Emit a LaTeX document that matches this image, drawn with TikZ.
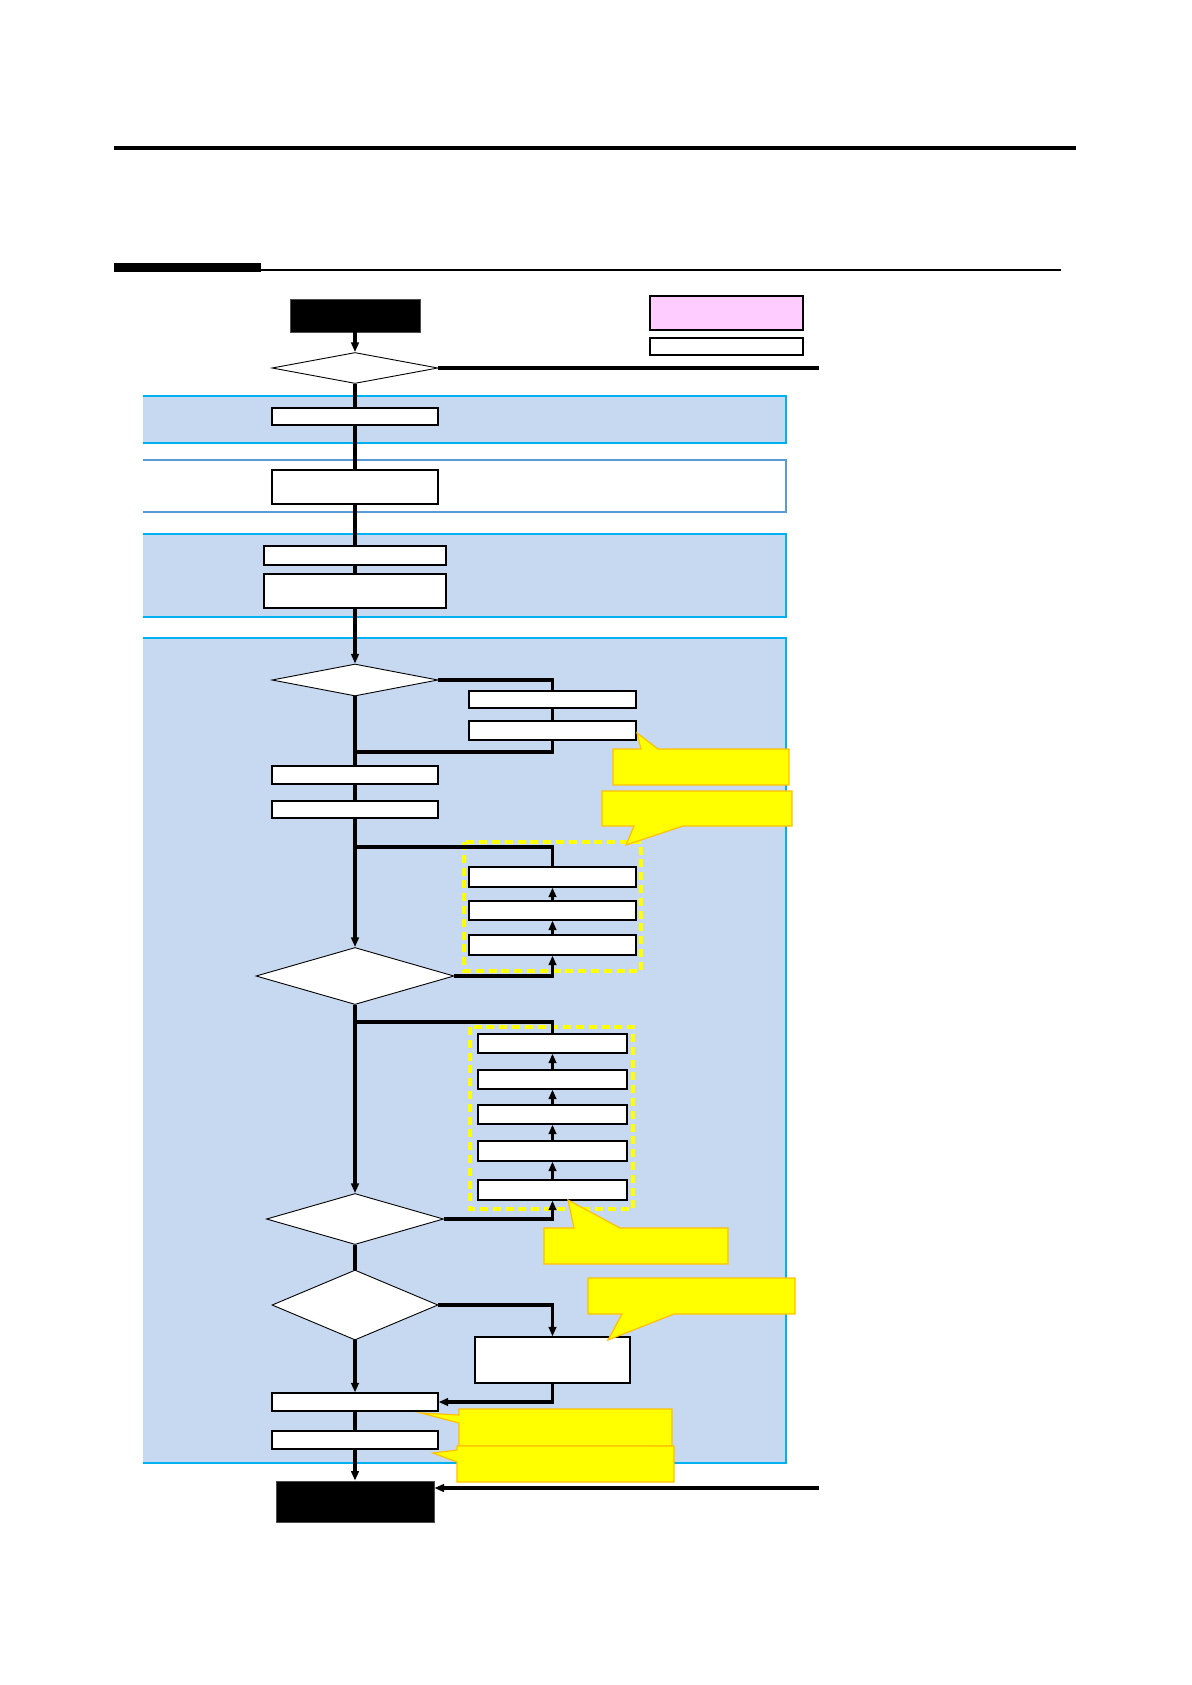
\documentclass[tikz,border=0pt]{standalone}
\usetikzlibrary{arrows.meta,shapes.geometric,fit}
\definecolor{bandfill}{HTML}{C6D9F1}
\definecolor{bandline}{HTML}{00B0F0}
\definecolor{bandthin}{HTML}{5B9BD5}
\definecolor{pinkfill}{HTML}{FFCCFF}
\definecolor{callfill}{HTML}{FFFF00}
\definecolor{callline}{HTML}{FFC000}
\begin{document}
\begin{tikzpicture}[x=0.5pt,y=-0.5pt,
  box/.style={draw=black,fill=white,line width=0.6pt,inner sep=0pt,rectangle},
  term/.style={draw=black!70,fill=black,line width=0.4pt,inner sep=0pt,rectangle},
  dec/.style={draw=black,fill=white,line width=0.45pt,inner sep=0pt,diamond},
  flow/.style={line width=1.6pt,line join=miter},
  arr/.style={flow,-{Triangle[length=4.8pt,width=3.8pt]}},
  band/.style={fill=bandfill},
  bandedge/.style={draw=bandline,line width=1.3pt},
  dashbox/.style={draw=callfill,line width=1.7pt,dash pattern=on 4pt off 2.4pt},
  callout/.style={fill=callfill,draw=callline,line width=0.6pt,line join=miter}]
\useasboundingbox (0,0) rectangle (1192,1685);
% header rules
\fill (114,146) rectangle (1076,150.5);
\fill (114,262.5) rectangle (261,271.5);
\draw[line width=0.8pt] (261,270) -- (1061,270);
% bands
\fill[band] (143,396) rectangle (786,443);
\draw[bandedge] (143,396) -- (786,396) -- (786,443) -- (143,443);
\draw[draw=bandthin,line width=0.7pt] (143,460) -- (786,460) -- (786,512) -- (143,512);
\fill[band] (143,534) rectangle (786,617);
\draw[bandedge] (143,534) -- (786,534) -- (786,617) -- (143,617);
\fill[band] (143,638) rectangle (786,1463);
\draw[bandedge] (143,638) -- (786,638) -- (786,1463) -- (143,1463);
% legend
\node[box,fill=pinkfill,fit={(650,296)(803,330)}] (leg1) {};
\node[box,fit={(650,338)(803,355)}] (leg2) {};
% nodes
\node[term,fit={(290,299)(420,332)}] (start) {};
\node[dec,minimum width=83pt,minimum height=15.5pt] (d1) at (355,368) {};
\node[box,fit={(272,408)(438,425)}] (b1) {};
\node[box,fit={(272,470)(438,504)}] (b2) {};
\node[box,fit={(264,546)(446,565)}] (b3) {};
\node[box,fit={(264,574)(446,608)}] (b4) {};
\node[dec,minimum width=83pt,minimum height=16pt] (d2) at (355,680) {};
\node[box,fit={(469,691)(636,708)}] (a1) {};
\node[box,fit={(469,721)(636,740)}] (a2) {};
\node[box,fit={(272,766)(438,784)}] (bb1) {};
\node[box,fit={(272,801)(438,818)}] (bb2) {};
\node[box,fit={(469,867)(636,887)}] (c1) {};
\node[box,fit={(469,901)(636,920)}] (c2) {};
\node[box,fit={(469,935)(636,955)}] (c3) {};
\node[dec,minimum width=99pt,minimum height=28.5pt] (d3) at (355,976) {};
\node[box,fit={(478,1034)(627,1053)}] (e1) {};
\node[box,fit={(478,1070)(627,1089)}] (e2) {};
\node[box,fit={(478,1105)(627,1124)}] (e3) {};
\node[box,fit={(478,1141)(627,1161)}] (e4) {};
\node[box,fit={(478,1180)(627,1200)}] (e5) {};
\node[dec,minimum width=88.5pt,minimum height=25.5pt] (d4) at (355,1219) {};
\node[dec,minimum width=83pt,minimum height=35pt] (d5) at (355,1305) {};
\node[box,fit={(475,1337)(630,1383)}] (g) {};
\node[box,fit={(272,1393)(438,1411)}] (f1) {};
\node[box,fit={(272,1431)(438,1449)}] (f2) {};
\node[term,fit={(276,1481)(434,1522)}] (stop) {};
% dashed groups
\draw[dashbox] (464,842) rectangle (641,971);
\draw[dashbox] (470,1027) rectangle (633,1209);
% free ends
\coordinate (r1) at (819,368);
\coordinate (r2) at (819,1488);
\coordinate (j1) at (355,752);
\coordinate (j2) at (355,847);
\coordinate (j3) at (355,1022);
% connectors
\draw[arr] (start.south) -- (d1.north);
\draw[flow] (d1.east) -- (r1);
\draw[flow] (d1.south) -- (b1.north);
\draw[flow] (b1.south) -- (b2.north);
\draw[flow] (b2.south) -- (b3.north);
\draw[flow] (b3.south) -- (b4.north);
\draw[arr] (b4.south) -- (d2.north);
\draw[flow] (d2.east) -| (a1.north);
\draw[flow] (a1.south) -- (a2.north);
\draw[flow] (a2.south) |- (j1);
\draw[flow] (d2.south) -- (bb1.north);
\draw[flow] (bb1.south) -- (bb2.north);
\draw[arr] (bb2.south) -- (d3.north);
\draw[flow] (j2) -| (c1.north);
\draw[arr] (c3.north) -- (c2.south);
\draw[arr] (c2.north) -- (c1.south);
\draw[arr] (d3.east) -| (c3.south);
\draw[arr] (d3.south) -- (d4.north);
\draw[flow] (j3) -| (e1.north);
\draw[arr] (e5.north) -- (e4.south);
\draw[arr] (e4.north) -- (e3.south);
\draw[arr] (e3.north) -- (e2.south);
\draw[arr] (e2.north) -- (e1.south);
\draw[arr] (d4.east) -| (e5.south);
\draw[flow] (d4.south) -- (d5.north);
\draw[arr] (d5.east) -| (g.north);
\draw[arr] (d5.south) -- (f1.north);
\draw[arr] (g.south) |- (f1.east);
\draw[flow] (f1.south) -- (f2.north);
\draw[arr] (f2.south) -- (stop.north);
\draw[arr] (r2) -- (stop.east |- r2);
% callouts
\draw[callout] (613,749) -- (641,749) -- (637,733) -- (658,749) -- (789,749) -- (789,785) -- (613,785) -- cycle;
\draw[callout] (602,791) -- (792,791) -- (792,826) -- (683,826) -- (626,845) -- (634,826) -- (602,826) -- cycle;
\draw[callout] (544,1228) -- (574,1228) -- (568,1200) -- (620,1228) -- (728,1228) -- (728,1264) -- (544,1264) -- cycle;
\draw[callout] (588,1278) -- (795,1278) -- (795,1314) -- (674,1314) -- (608,1340) -- (622,1314) -- (588,1314) -- cycle;
\draw[callout] (459,1409) -- (672,1409) -- (672,1446) -- (459,1446) -- (459,1423) -- (421,1413) -- (459,1415) -- cycle;
\draw[callout] (457,1446) -- (674,1446) -- (674,1482) -- (457,1482) -- (457,1462) -- (433,1453) -- (457,1450) -- cycle;
\end{tikzpicture}
\end{document}
